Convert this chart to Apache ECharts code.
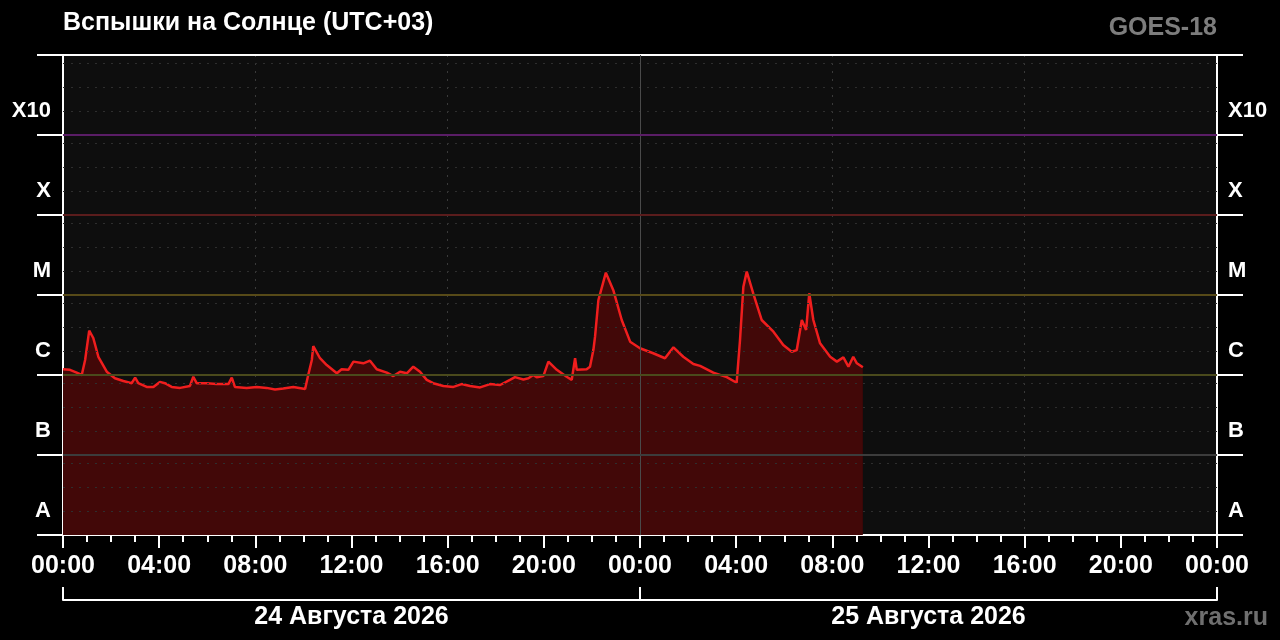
<!DOCTYPE html>
<html lang="ru">

<head>
    <meta charset="UTF-8">
    <title>Вспышки на Солнце</title>
    <style>
        html, body { margin: 0; padding: 0; background: #000; }
        #chart { width: 1280px; height: 640px; }
    </style>
</head>

<body>
    <div id="chart"></div>
    <script src="https://cdn.jsdelivr.net/npm/echarts@6/dist/echarts.min.js"></script>
    <script>
        // hours since 24.08.2026 00:00 (UTC+03)
        var hours = [
            0.00, 0.29, 0.57, 0.78, 0.92, 1.09, 1.26, 1.47, 1.82, 2.16,
            2.51, 2.86, 3.00, 3.13, 3.48, 3.76, 4.03, 4.24, 4.52, 4.87,
            5.28, 5.42, 5.56, 5.98, 6.39, 6.88, 7.02, 7.15, 7.64, 8.06,
            8.47, 8.82, 9.16, 9.58, 10.07, 10.20, 10.35, 10.41, 10.69, 10.97,
            11.39, 11.59, 11.87, 12.08, 12.49, 12.77, 13.05, 13.47, 13.74, 14.02,
            14.30, 14.57, 14.85, 15.13, 15.40, 15.82, 16.24, 16.58, 16.93, 17.35,
            17.76, 18.18, 18.59, 18.80, 19.15, 19.36, 19.56, 19.70, 19.98, 20.19,
            20.54, 20.95, 21.16, 21.30, 21.37, 21.78, 21.92, 22.06, 22.13, 22.27,
            22.58, 22.89, 23.24, 23.59, 24.00, 24.55, 25.04, 25.39, 25.80, 26.22,
            26.50, 27.05, 27.61, 28.02, 28.16, 28.30, 28.44, 28.71, 29.06, 29.55,
            29.96, 30.31, 30.52, 30.73, 30.91, 31.04, 31.21, 31.49, 31.91, 32.19,
            32.46, 32.67, 32.87, 33.02, 33.27
        ]
        // X-ray flux, W/m2
        var flux = [
            1.18e-6, 1.16e-6, 1.07e-6, 1.00e-6, 1.54e-6, 3.58e-6, 2.90e-6, 1.69e-6, 1.10e-6, 0.91e-6,
            0.84e-6, 0.79e-6, 0.93e-6, 0.79e-6, 0.71e-6, 0.71e-6, 0.82e-6, 0.79e-6, 0.71e-6, 0.69e-6,
            0.73e-6, 0.95e-6, 0.79e-6, 0.79e-6, 0.77e-6, 0.77e-6, 0.93e-6, 0.71e-6, 0.69e-6, 0.71e-6,
            0.69e-6, 0.66e-6, 0.68e-6, 0.71e-6, 0.67e-6, 1.00e-6, 1.54e-6, 2.30e-6, 1.62e-6, 1.33e-6,
            1.05e-6, 1.18e-6, 1.16e-6, 1.47e-6, 1.40e-6, 1.51e-6, 1.18e-6, 1.07e-6, 0.97e-6, 1.10e-6,
            1.05e-6, 1.27e-6, 1.10e-6, 0.87e-6, 0.79e-6, 0.73e-6, 0.71e-6, 0.77e-6, 0.73e-6, 0.70e-6,
            0.77e-6, 0.75e-6, 0.87e-6, 0.94e-6, 0.88e-6, 0.91e-6, 1.00e-6, 0.94e-6, 0.97e-6, 1.47e-6,
            1.16e-6, 0.95e-6, 0.87e-6, 1.62e-6, 1.16e-6, 1.18e-6, 1.27e-6, 2.05e-6, 3.01e-6, 8.66e-6,
            1.90e-5, 1.15e-5, 4.87e-6, 2.61e-6, 2.16e-6, 1.87e-6, 1.62e-6, 2.22e-6, 1.69e-6, 1.37e-6,
            1.30e-6, 1.07e-6, 0.94e-6, 0.80e-6, 2.74e-6, 1.27e-5, 1.96e-5, 1.05e-5, 4.87e-6, 3.48e-6,
            2.37e-6, 1.95e-6, 2.05e-6, 4.87e-6, 3.65e-6, 1.05e-5, 4.87e-6, 2.49e-6, 1.69e-6, 1.47e-6,
            1.66e-6, 1.27e-6, 1.69e-6, 1.40e-6, 1.25e-6
        ]
        var classLabels = ['A', 'B', 'C', 'M', 'X', 'X10']
        var dayLabels = ['24 Августа 2026', '25 Августа 2026']
        // class borders (log10 W/m2) and their line colours
        var levelValues = [-7, -6, -5, -4, -3]
        var levelColors = ['#3c3c3c', '#4a4a1c', '#574a18', '#5a1c1c', '#5a1d66']

        var font = "'Liberation Sans', Arial, sans-serif"
        var chart

        function setup() {
            chart = echarts.init(document.getElementById('chart'))

            let seriesData = hours.map((h, i) => [h, Math.log10(flux[i])])

            let levelLines = levelValues.map((v, i) => ({
                yAxis: v,
                lineStyle: { color: levelColors[i], width: 2, type: 'solid' }
            }))
            // dotted helper lines at 2, 4 and 8 of every decade
            let minorLines = []
            for (let k = -8; k < -2; k++) {
                [2, 4, 8].forEach(m => {
                    minorLines.push({ yAxis: k + Math.log10(m) })
                })
            }

            let axisWhite = { show: true, lineStyle: { color: '#fff', width: 2 } }
            let labelFont = { color: '#fff', fontFamily: font, fontWeight: 'bold' }

            let option = {
                backgroundColor: '#000',
                animation: false,
                title: [{
                    text: 'Вспышки на Солнце (UTC+03)',
                    left: 63, top: 11, padding: 0,
                    textStyle: { color: '#fff', fontFamily: font, fontWeight: 'bold', fontSize: 25 }
                }, {
                    text: 'GOES-18',
                    right: 63, top: 16, padding: 0,
                    textStyle: { color: '#7d7d7d', fontFamily: font, fontWeight: 'bold', fontSize: 25 }
                }, {
                    text: 'xras.ru',
                    right: 12, top: 606, padding: 0,
                    textStyle: { color: '#6f6f6f', fontFamily: font, fontWeight: 'bold', fontSize: 25 }
                }],
                grid: {
                    left: 63, right: 63, top: 55, bottom: 105,
                    show: true, backgroundColor: '#0e0e0e', borderWidth: 0
                },
                xAxis: [{
                    // main time axis
                    type: 'value', min: 0, max: 48, interval: 4, position: 'bottom',
                    axisLine: axisWhite,
                    axisTick: { show: true, length: 13, lineStyle: { color: '#fff', width: 2 } },
                    minorTick: { show: true, splitNumber: 4, length: 7, lineStyle: { color: '#fff', width: 2 } },
                    axisLabel: Object.assign({
                        fontSize: 25, margin: 19,
                        formatter: v => String(v % 24).padStart(2, '0') + ':00'
                    }, labelFont),
                    splitLine: { show: false }
                }, {
                    // top border + dotted vertical grid
                    type: 'value', min: 0, max: 48, interval: 8, position: 'top',
                    axisLine: axisWhite,
                    axisTick: { show: false },
                    axisLabel: { show: false },
                    splitLine: { show: true, lineStyle: { color: '#3a3a3a', width: 1, type: [2, 6] } }
                }, {
                    // day brackets
                    type: 'category', data: dayLabels, position: 'bottom', offset: 65,
                    boundaryGap: true,
                    axisLine: axisWhite,
                    axisTick: { show: true, inside: true, length: 13, lineStyle: { color: '#fff', width: 2 } },
                    axisLabel: Object.assign({ fontSize: 25, margin: 5 }, labelFont),
                    splitLine: { show: false }
                }],
                yAxis: [{
                    type: 'value', min: -8, max: -2, interval: 1, position: 'left',
                    axisLine: axisWhite,
                    axisTick: { show: true, length: 26, lineStyle: { color: '#fff', width: 2 } },
                    axisLabel: { show: false },
                    splitLine: { show: false }
                }, {
                    type: 'value', min: -8, max: -2, interval: 0.1, position: 'left',
                    axisLine: { show: false }, axisTick: { show: false },
                    axisLabel: Object.assign({ fontSize: 22, margin: 12, formatter: classFormatter, padding: [3, 0, 0, 0] }, labelFont),
                    splitLine: { show: false }
                }, {
                    type: 'value', min: -8, max: -2, interval: 1, position: 'right',
                    axisLine: axisWhite,
                    axisTick: { show: true, length: 26, lineStyle: { color: '#fff', width: 2 } },
                    axisLabel: { show: false },
                    splitLine: { show: false }
                }, {
                    type: 'value', min: -8, max: -2, interval: 0.1, position: 'right',
                    axisLine: { show: false }, axisTick: { show: false },
                    axisLabel: Object.assign({ fontSize: 22, margin: 11, formatter: classFormatter, padding: [3, 0, 0, 0] }, labelFont),
                    splitLine: { show: false }
                }],
                series: [{
                    name: 'GOES-18',
                    type: 'line',
                    xAxisIndex: 0, yAxisIndex: 0,
                    data: seriesData,
                    symbol: 'none',
                    lineStyle: { color: '#f01e1e', width: 2.5 },
                    areaStyle: { color: '#420808', opacity: 1, origin: 'start' },
                    z: 2
                }, {
                    // grid lines drawn above the fill
                    type: 'line', xAxisIndex: 0, yAxisIndex: 0, data: [], z: 3,
                    markLine: {
                        silent: true, symbol: 'none', label: { show: false },
                        data: minorLines.concat([{ xAxis: 24, lineStyle: { color: '#4a4a4a', width: 1, type: 'solid' } }]),
                        lineStyle: { color: '#2e2e2e', width: 1, type: [2, 6] },
                        animation: false
                    }
                }, {
                    type: 'line', xAxisIndex: 0, yAxisIndex: 0, data: [], z: 4,
                    markLine: {
                        silent: true, symbol: 'none', label: { show: false },
                        data: levelLines,
                        animation: false
                    }
                }]
            }
            chart.setOption(option, true)
        }

        function classFormatter(v) {
            let s = Math.round((v + 8) * 10)
            if (s % 10 === 3) return classLabels[(s - 3) / 10]
            return ''
        }

        setup()
    </script>
</body>

</html>
